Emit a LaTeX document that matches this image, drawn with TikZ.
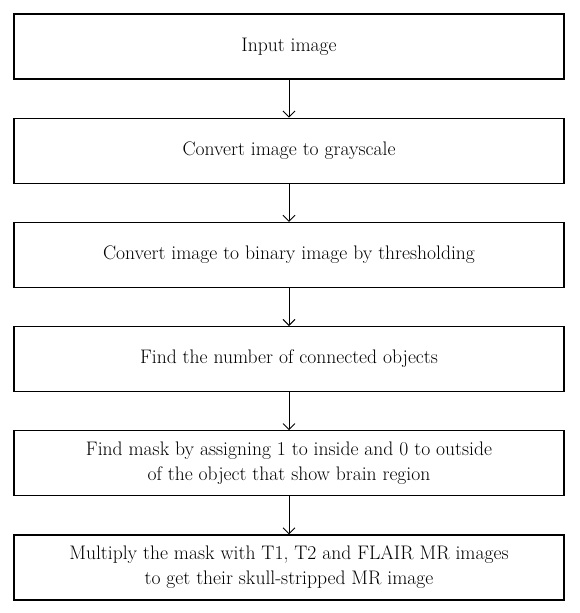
\documentclass[tikz,border=0pt]{standalone}
\usepackage{fontspec}
\usepackage{tikz}
\usetikzlibrary{arrows.meta,positioning}

\begin{document}
\begin{tikzpicture}[x=1pt, y=1pt,
    stepbox/.style={draw, line width=1.2pt, minimum width=550pt, minimum height=65pt, align=center, font=\fontsize{19.6}{25}\selectfont},
    flow/.style={-{Straight Barb[length=6pt, width=12pt]}, line width=0.9pt}]
                \useasboundingbox (0,0) rectangle (579,-613);
                \node[stepbox] (input) at (289,-46.5) {Input image};
                \node[stepbox, below=38pt of input] (gray) {Convert image to grayscale};
                \node[stepbox, below=38pt of gray] (binary) {Convert image to binary image by thresholding};
                \node[stepbox, below=38pt of binary] (objects) {Find the number of connected objects};
                \node[stepbox, below=38pt of objects] (mask) {Find mask by assigning 1 to inside and 0 to outside\\of the object that show brain region};
                \node[stepbox, below=38pt of mask] (strip) {Multiply the mask with T1, T2 and FLAIR MR images\\to get their skull-stripped MR image};
                \draw[flow] (input) -- (gray);
                \draw[flow] (gray) -- (binary);
                \draw[flow] (binary) -- (objects);
                \draw[flow] (objects) -- (mask);
                \draw[flow] (mask) -- (strip);
            \end{tikzpicture}
\end{document}
